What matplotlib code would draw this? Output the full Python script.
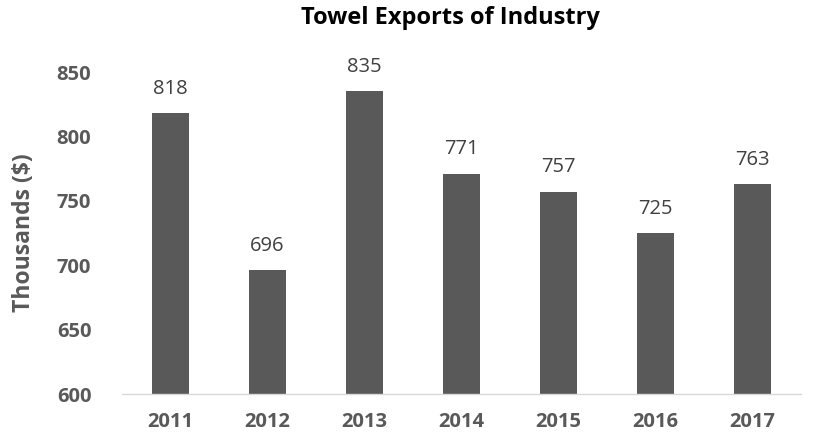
import matplotlib
matplotlib.use('Agg')
import matplotlib.pyplot as plt

plt.rcParams['font.family'] = ['Open Sans', 'DejaVu Sans']

years = ['2011', '2012', '2013', '2014', '2015', '2016', '2017']
exports = [818, 696, 835, 771, 757, 725, 763]
y_ticks = [600, 650, 700, 750, 800, 850]

fig = plt.figure(figsize=(8.35, 4.37), dpi=100)
ax = fig.add_axes([0.146, 0.098, 0.813, 0.737])

x = range(len(years))
bars = ax.bar(x, exports, width=0.38, color='#595959', zorder=2)

# value labels above each bar
for xi, v in zip(x, exports):
    ax.annotate(f'{v}', (xi, v), xytext=(0, 10.5), textcoords='offset points',
                ha='center', va='bottom', fontsize=14.5, color='#404040',
                annotation_clip=False)

ax.set_ylim(600, 850)
ax.set_xlim(-0.5, len(years) - 0.5)
ax.set_yticks(y_ticks)
ax.set_xticks(list(x))
ax.set_xticklabels(years)

for lbl in ax.get_xticklabels() + ax.get_yticklabels():
    lbl.set_fontweight('bold')
    lbl.set_color('#595959')
    lbl.set_fontsize(14.5)

ax.tick_params(axis='both', length=0)
ax.tick_params(axis='x', pad=13)
ax.tick_params(axis='y', pad=22)

for side in ('top', 'right', 'left'):
    ax.spines[side].set_visible(False)
ax.spines['bottom'].set_color('#d9d9d9')
ax.spines['bottom'].set_linewidth(1)

ax.set_ylabel('Thousands ($)', fontsize=16.5, fontweight='bold', color='#595959', labelpad=15)
fig.text(0.54, 0.959, 'Towel Exports of Industry', ha='center', va='center',
         fontsize=17, fontweight='bold', color='black')

fig.savefig('out.png', dpi=100)
